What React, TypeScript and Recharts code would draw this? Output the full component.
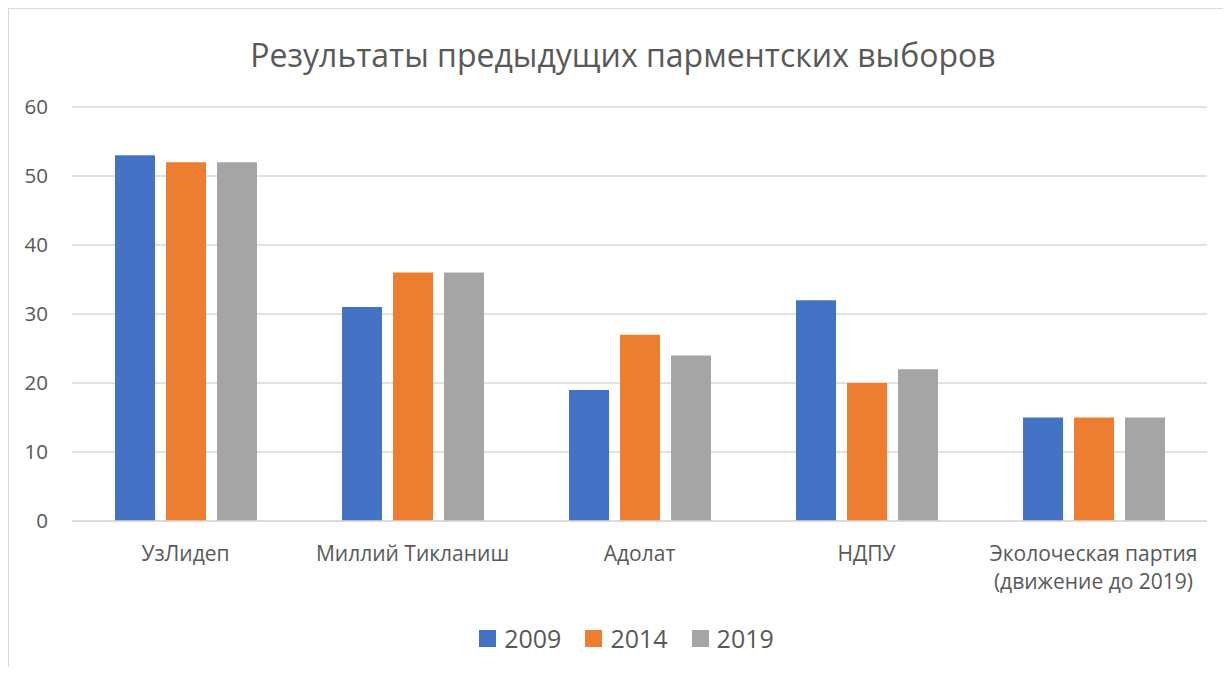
import React from 'react';
import { BarChart, Bar, XAxis, YAxis, CartesianGrid, Legend } from 'recharts';

const parties = ['УзЛидеп', 'Миллий Тикланиш', 'Адолат', 'НДПУ', 'Эколоческая партия (движение до 2019)'];
const seats2009 = [53, 31, 19, 32, 15];
const seats2014 = [52, 36, 27, 20, 15];
const seats2019 = [52, 36, 24, 22, 15];
const yTicks = [0, 10, 20, 30, 40, 50, 60];

const series = [
  { key: 'y2009', name: '2009', color: '#4472C4' },
  { key: 'y2014', name: '2014', color: '#ED7D31' },
  { key: 'y2019', name: '2019', color: '#A5A5A5' },
];

const data = parties.map((party, i) => ({
  party,
  y2009: seats2009[i],
  y2014: seats2014[i],
  y2019: seats2019[i],
}));

const FONT = '"Open Sans", "Noto Sans", sans-serif';
const TEXT = '#595959';
const GRID = '#D9D9D9';

// splits long labels on two lines like Excel does
const splitLabel = (label: string): string[] => {
  if (label.length < 20) return [label];
  const idx = label.indexOf(' (');
  return idx > 0 ? [label.slice(0, idx), label.slice(idx + 1)] : [label];
};

const CategoryTick = (props: any) => {
  const { x, y, payload } = props;
  const lines = splitLabel(payload.value);
  return (
    <text x={x} y={y} textAnchor="middle" fill={TEXT} fontSize={21} fontFamily={FONT}>
      {lines.map((line, i) => (
        <tspan key={i} x={x} dy={i === 0 ? '0.71em' : 28}>
          {line}
        </tspan>
      ))}
    </text>
  );
};

const LegendContent = () => (
  <div style={{ display: 'flex', justifyContent: 'center', alignItems: 'center', height: 40, paddingLeft: 24 }}>
    {series.map((s) => (
      <div key={s.key} style={{ display: 'flex', alignItems: 'center', margin: '0 12px' }}>
        <span style={{ width: 17, height: 17, background: s.color, display: 'inline-block', marginRight: 8 }} />
        <span style={{ fontSize: 25, color: TEXT, fontFamily: FONT }}>{s.name}</span>
      </div>
    ))}
  </div>
);

export default function App() {
  return (
    <div
      style={{
        position: 'relative',
        width: 1215,
        height: 659,
        borderLeft: `1px solid ${GRID}`,
        borderTop: `1px solid ${GRID}`,
        boxSizing: 'border-box',
        background: '#fff',
      }}
    >
      <div
        style={{
          position: 'absolute',
          top: 24,
          left: 0,
          width: 1228,
          textAlign: 'center',
          fontFamily: FONT,
          fontSize: 32,
          color: TEXT,
        }}
      >
        Результаты предыдущих парментских выборов
      </div>
      <BarChart
        width={1214}
        height={658}
        data={data}
        margin={{ top: 98, right: 16, bottom: 9, left: 13 }}
        barSize={40}
        barGap={11}
      >
        <CartesianGrid vertical={false} stroke={GRID} strokeWidth={1.5} />
        <XAxis
          dataKey="party"
          height={97}
          axisLine={{ stroke: GRID, strokeWidth: 1.5 }}
          tickLine={false}
          tickSize={0}
          tickMargin={25}
          interval={0}
          tick={<CategoryTick />}
        />
        <YAxis
          domain={[0, 60]}
          ticks={yTicks}
          width={50}
          axisLine={false}
          tickLine={false}
          tickSize={0}
          tickMargin={24}
          tick={{ fill: TEXT, fontSize: 20.5, fontFamily: FONT }}
        />
        <Legend verticalAlign="bottom" height={40} content={<LegendContent />} />
        {series.map((s) => (
          <Bar key={s.key} dataKey={s.key} name={s.name} fill={s.color} isAnimationActive={false} />
        ))}
      </BarChart>
    </div>
  );
}
